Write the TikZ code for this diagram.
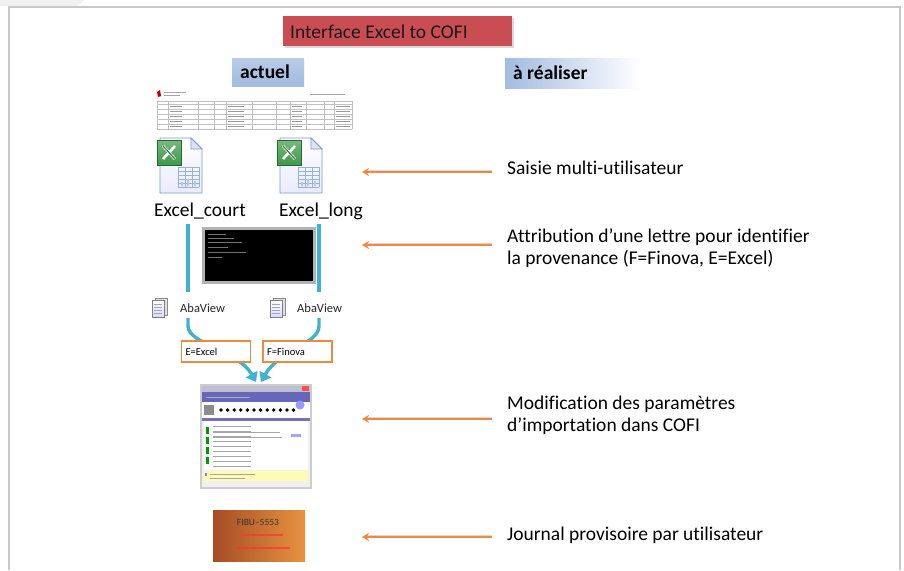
\documentclass[tikz,border=0pt]{standalone}
\usepackage{fontspec}
\setmainfont{Carlito}[RawFeature=-liga]
\usetikzlibrary{arrows.meta}

\definecolor{framegray}{HTML}{C8C8C8}
\definecolor{titlered}{HTML}{CB4D54}
\definecolor{headblue}{HTML}{A2BBE0}
\definecolor{flowblue}{HTML}{3EB2CE}
\definecolor{noteorange}{HTML}{F0893C}
\definecolor{pageblue}{HTML}{7D9EC6}
\definecolor{gridblue}{HTML}{93B3D8}
\definecolor{xlgreen}{HTML}{3E9A48}
\definecolor{xldark}{HTML}{1F6A2C}

\tikzset{
  big/.style={font=\fontsize{19.5}{22}\selectfont},
  note/.style={big, anchor=west, align=left, inner sep=0pt, text=black},
  head/.style={font=\fontsize{19.5}{22}\selectfont\bfseries, anchor=west, inner sep=0pt, text=black},
  oarrow/.style={draw=noteorange, line width=2.6pt, -{Stealth[length=7pt,width=8pt]}},
  oshadow/.style={draw=black!30, line width=1.2pt, opacity=0.5},
  flow/.style={draw=flowblue, line width=3.4pt},
  flowarrow/.style={flow, -{Triangle[length=9pt,width=13pt]}},
  tagbox/.style={draw=noteorange, line width=1.6pt, fill=white, minimum width=69pt,
    minimum height=21pt, inner sep=0pt, font=\fontsize{10.5}{12}\selectfont, text=black},
  abatext/.style={font=\fontsize{12.5}{14}\selectfont, anchor=west, inner sep=0pt, text=black!85},
  % spreadsheet document icon with the green badge
  excelicon/.pic={
    \path[draw=pageblue, line width=0.8pt, top color=white, bottom color=blue!8]
      (3,0) -- (34,0) -- (45,11) -- (45,55) -- (3,55) -- cycle;
    \path[draw=pageblue, line width=0.8pt, fill=blue!12] (34,0) -- (34,11) -- (45,11) -- cycle;
    \foreach \yy in {29,33,...,49} \draw[gridblue, line width=0.7pt] (21,\yy) -- (42,\yy);
    \foreach \xx in {21,28,35,42} \draw[gridblue, line width=0.7pt] (\xx,29) -- (\xx,49);
    \fill[gridblue!70] (24,44) rectangle (26,48) (30,41) rectangle (32,48) (37,43) rectangle (39,48);
    \path[draw=xldark, line width=1pt, top color=xlgreen!70!white, bottom color=xlgreen]
      (0,2) rectangle (24,27);
    \draw[white, line width=2.6pt] (6,8) -- (18,21) (18,8) -- (6,21);
    \draw[xldark, line width=1pt] (6,8) -- (18,21);
  },
  % small document icon of the viewer
  abaicon/.pic={
    \path[draw=black!45, fill=black!12] (3,0) rectangle (15,17);
    \path[draw=black!50, top color=white, bottom color=blue!15] (0,2) rectangle (12,19);
    \foreach \yy in {6,9,12,15} \draw[black!35, line width=0.5pt] (2,\yy) -- (10,\yy);
  }
}

\begin{document}
\begin{tikzpicture}[x=1pt,y=-1pt]
\useasboundingbox (0,0) rectangle (904,570);
\fill[white] (0,0) rectangle (904,570);

% page frame
\fill[black!6] (0,0) -- (84,0) .. controls (81,3) .. (76,6) -- (0,6) -- cycle;
\draw[framegray, line width=2pt] (9,570) -- (9,7) -- (900,7) -- (900,570);

% title and column headings
\fill[black!15] (285,18) rectangle (514,48);
\fill[titlered] (283,16) rectangle (512,46);
\node[big, anchor=west, inner sep=0pt, text=black!90] (title) at (290,31.5) {Interface Excel to COFI};

\path[top color=headblue!75!white, bottom color=headblue] (232,58) rectangle (304,86);
\node[head] (actuel) at (240,72) {actuel};
\path[left color=headblue, right color=white] (505,58) rectangle (640,88);
\node[head] (realiser) at (513,73) {à réaliser};

% spreadsheet thumbnail
\fill[red!75!black] (157,92) -- (160,90) -- (161,96) -- (158,97) -- cycle;
\draw[black!35, line width=0.8pt] (164,92) -- (186,92) (164,95) -- (180,95);
\draw[black!35, line width=0.8pt] (310,94) -- (345,94);
\draw[black!25, line width=0.5pt] (157,101) -- (352,101);
\foreach \yy in {104,109,...,129} \draw[black!25, line width=0.5pt] (157,\yy) -- (352,\yy);
\foreach \xx in {157,168,198,214,226,252,276,290,306,324,334,352}
  \draw[black!25, line width=0.5pt] (\xx,101) -- (\xx,129);
\foreach \yy in {106.5,111.5,...,126.5} {
  \draw[black!40, line width=0.9pt] (170,\yy) -- (182,\yy) (228,\yy) -- (244,\yy)
    (292,\yy) -- (302,\yy) (336,\yy) -- (350,\yy);
}

% workbook icons and labels
\pic at (157,138) {excelicon};
\pic at (277,138) {excelicon};
\node[big, inner sep=0pt, text=black] (court) at (200,211) {Excel\_court};
\node[big, inner sep=0pt, text=black] (long) at (321,211) {Excel\_long};

% flow lines from the workbooks down to the viewers
\coordinate (lt) at (188,224);
\coordinate (lb) at (188,292);
\coordinate (rt) at (319,224);
\coordinate (rb) at (319,292);
\draw[flow] (lt) -- (lb);
\draw[flow] (rt) -- (rb);

% console window
\fill[black!30] (202,227) rectangle (316,284);
\fill[black] (205,230) rectangle (313,281);
\foreach \yy/\ll in {234/18,238/26,242/34,247/20,252/38,257/14}
  \draw[black!55, line width=0.6pt] (208,\yy) -- ++(\ll,0);
\node[inner sep=0pt] (console) at (259,255) {};

% viewers
\pic at (152,298) {abaicon};
\pic at (270,298) {abaicon};
\node[abatext] (abaL) at (180,308) {AbaView};
\node[abatext] (abaR) at (297,308) {AbaView};

% flows into the import step
\coordinate (ls) at (188,318);
\coordinate (rs) at (319,318);
\coordinate (lend) at (256,382);
\coordinate (rend) at (261,382);
\draw[flowarrow] (ls) -- (188,326) .. controls (188,344) and (238,350) .. (lend);
\draw[flowarrow] (rs) -- (319,326) .. controls (319,344) and (279,350) .. (rend);

\node[tagbox, text width=61pt, align=left] (tagE) at (216,351.5) {E=Excel};
\node[tagbox, text width=61pt, align=left] (tagF) at (297.5,351.5) {F=Finova};

% import dialog
\begin{scope}
  \fill[black!20] (200,384) rectangle (312,489);
  \fill[black!6] (202,386) rectangle (310,487);
  \fill[blue!30!black!25] (202,386) rectangle (310,392);
  \fill[red!70] (302,386) rectangle (309,391);
  \fill[blue!55!black!60] (202,392) rectangle (310,402);
  \draw[white!70!black, line width=0.5pt] (206,397) -- (250,397);
  \fill[white] (202,402) rectangle (310,418);
  \fill[black!45] (204,405) rectangle (214,415);
  \fill[blue!40] (300,405) circle (4.5);
  \foreach \i in {0,...,11} \fill[black] (221+\i*6.6,410) circle (1.9);
  \fill[blue!45!black!55] (202,418) rectangle (310,421);
  \fill[white] (204,421) rectangle (308,470);
  \foreach \yy in {426,431,436,441,446,451,456,461,466}
    \draw[black!35, line width=0.6pt] (213,\yy) -- ++(38,0);
  \foreach \yy in {427,437,447,457}
    \fill[green!60!black] (206,\yy) rectangle (209,\yy+7);
  \draw[black!35, line width=0.6pt] (213,432) -- (280,432) (213,437) -- (282,437);
  \fill[blue!35] (291,434) rectangle (301,437);
  \fill[yellow!30] (204,471) rectangle (308,481);
  \draw[black!35, line width=0.6pt] (210,474) -- (255,474) (210,478) -- (245,478);
  \fill[blue!50] (205,473) rectangle (207,476);
  \node[inner sep=0pt] (dialog) at (256,436) {};
\end{scope}

% provisional journal
\path[left color=brown!75!red!80!black, right color=orange!55!brown!85] (213,510) rectangle (305,561);
\node[font=\fontsize{9.5}{11}\selectfont, text=black!80, inner sep=0pt] (fibu) at (258,522) {FIBU--5553};
\draw[red!80, line width=1.6pt, opacity=0.7] (240,535) -- (283,535) (236,548) -- (290,548);

% notes on the right with their pointers
\node[note] (saisie) at (507,168) {Saisie multi-utilisateur};
\node[note] (attrib) at (507,248) {Attribution d’une lettre pour identifier\\la provenance (F=Finova, E=Excel)};
\node[note] (modif) at (507,415) {Modification des paramètres\\d’importation dans COFI};
\node[note] (journal) at (507,535) {Journal provisoire par utilisateur};

\foreach \nm/\yy in {a/172, b/245, c/419, d/537} {
  \coordinate (\nm s) at (492,\yy);
  \coordinate (\nm t) at (362,\yy);
  \draw[oshadow] ([yshift=1.6pt]\nm s) -- ([yshift=1.6pt,xshift=4pt]\nm t);
  \draw[oarrow] (\nm s) -- (\nm t);
}
\end{tikzpicture}
\end{document}
